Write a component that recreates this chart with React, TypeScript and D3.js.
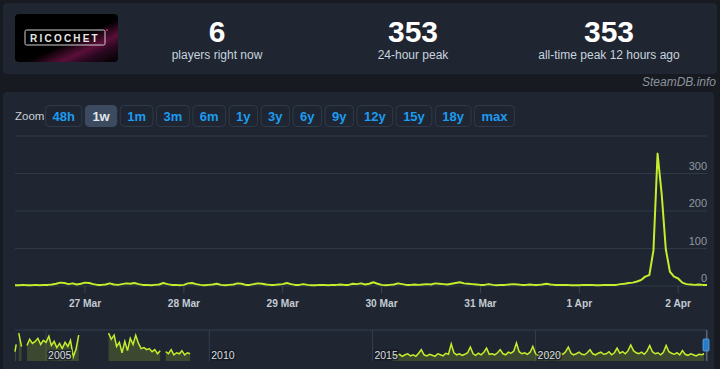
import React, { useMemo } from "react";
import * as d3 from "d3";

// header stats
const statValues = ["6", "353", "353"];
const statLabels = ["players right now", "24-hour peak", "all-time peak 12 hours ago"];

// zoom buttons
const zoomLabels = ["48h", "1w", "1m", "3m", "6m", "1y", "3y", "6y", "9y", "12y", "15y", "18y", "max"];
const activeZoom = "1w";

// one week of hourly player counts, starting 26 Mar 07:00
const weekStart = new Date(2025, 2, 26, 7);
const weekEnd = new Date(2025, 3, 2, 7);
const hourlyPlayers = [
    2, 2, 3, 2, 2, 3, 2, 3, 3, 4,
    6, 9, 8, 5, 7, 4, 6, 9, 8, 5,
    3, 3, 4, 7, 4, 3, 5, 7, 6, 8,
    5, 3, 3, 2, 3, 4, 8, 5, 3, 3,
    2, 3, 7, 8, 5, 3, 2, 3, 4, 6,
    3, 2, 3, 4, 7, 6, 3, 3, 5, 7,
    6, 4, 3, 3, 4, 5, 8, 5, 3, 3,
    5, 3, 2, 2, 3, 3, 2, 3, 3, 4,
    3, 3, 6, 5, 7, 4, 6, 10, 6, 3,
    2, 3, 4, 7, 5, 3, 3, 4, 3, 4,
    5, 4, 7, 6, 5, 4, 6, 8, 10, 7,
    6, 5, 4, 3, 3, 5, 3, 2, 3, 3,
    4, 5, 4, 3, 3, 4, 3, 3, 4, 6,
    4, 3, 3, 3, 3, 2, 2, 2, 3, 3,
    3, 2, 2, 3, 3, 3, 3, 5, 6, 8,
    9, 12, 16, 25, 29, 95, 353, 245, 98, 38,
    25, 20, 9, 5, 4, 3, 4, 3, 3,
];
const yTicks = [0, 100, 200, 300, 400];

// navigator (all-time, monthly) segments
const navSeg1 = [90, 160]; // from Jan 2004
const navSeg2 = [270, 140]; // from Mar 2004
const navSeg3 = [150, 210, 170, 190, 220, 160, 200, 180, 240, 150, 190, 130, 170, 120, 180, 140, 200, 40, 110, 250]; // from Jun 2004
const navSeg4 = [270, 210, 250, 140, 180, 80, 190, 100, 220, 160, 250, 170, 120, 130, 110, 120, 90, 110, 70, 100]; // from Dec 2006
const navSeg5 = [90, 70, 110, 60, 80, 70, 100, 60, 80, 70]; // from Sep 2008
const navSeg6 = [
    40, 55, 50, 65, 45, 60, 70, 50, 60, 45, 75, 110,
    60, 50, 65, 55, 45, 70, 60, 50, 75, 65, 165,
    80, 60, 70, 55, 65, 80, 135,
    70, 55, 75, 60, 85, 125,
    65, 70, 60, 80, 110,
    70, 60, 85, 75, 95, 175,
    90, 70, 80, 65, 85, 140,
    70, 55, 65, 60, 75, 50, 60, 70, 55, 80, 65, 90, 135,
    75, 60, 70, 85, 65, 60, 80, 110,
    70, 60, 75, 85, 65, 70, 90, 60, 80, 125,
    75, 90, 70, 100, 155,
    100, 80, 70, 85, 65, 95, 150,
    90, 70, 80, 60, 85, 150,
    90, 75, 65, 80, 60, 100,
    65, 55, 70, 60, 50, 65, 60, 70,
]; // from Aug 2015
const navYears = [2005, 2010, 2015, 2020];

const FONT = "'Liberation Sans', Arial, Helvetica, sans-serif";
const LIME = "#c3ee2c";

function measure(text: string, font: string) {
    const ctx = document.createElement("canvas").getContext("2d");
    if (!ctx) return text.length * 7;
    ctx.font = font;
    return ctx.measureText(text).width;
}

export default function App() {
    const width = 720;
    const height = 369;
    const plot = { left: 15, right: 707, top: 136, bottom: 286 };
    const nav = { top: 330, bottom: 361 };

    const x = d3.scaleTime().domain([weekStart, weekEnd]).range([plot.left, plot.right]);
    const y = d3.scaleLinear().domain([0, 400]).range([plot.bottom, plot.top]);

    const points = hourlyPlayers.map((v, i) => ({ t: d3.timeHour.offset(weekStart, i), v }));
    const line = d3
        .line<{ t: Date; v: number }>()
        .x((d) => x(d.t))
        .y((d) => y(d.v));

    const days = d3.timeDay.range(weekStart, weekEnd);
    const fmt = d3.timeFormat("%-d %b");

    // navigator
    const xNav = d3
        .scaleTime()
        .domain([new Date(2004, 0, 19), weekEnd])
        .range([plot.left, plot.right]);
    const yNav = d3.scaleLinear().domain([0, 300]).range([nav.bottom, nav.top]);
    const segs: [Date, number[]][] = [
        [new Date(2004, 0, 1), navSeg1],
        [new Date(2004, 2, 1), navSeg2],
        [new Date(2004, 5, 1), navSeg3],
        [new Date(2006, 11, 1), navSeg4],
        [new Date(2008, 8, 1), navSeg5],
        [new Date(2015, 7, 1), navSeg6],
    ];
    const navSeries = segs.map(([start, vals]) =>
        vals.map((v, i) => ({ t: d3.timeMonth.offset(start, i), v })),
    );
    const navLine = d3
        .line<{ t: Date; v: number }>()
        .x((d) => Math.max(plot.left, xNav(d.t)))
        .y((d) => yNav(d.v));
    const navArea = d3
        .area<{ t: Date; v: number }>()
        .x((d) => Math.max(plot.left, xNav(d.t)))
        .y0(nav.bottom)
        .y1((d) => yNav(d.v));

    // zoom buttons layout
    const buttons = useMemo(() => {
        const font = `bold 13px ${FONT}`;
        let cx = 45;
        return zoomLabels.map((label) => {
            const w = measure(label, font) + 14;
            const b = { label, x: cx, w };
            cx += w + 3.5;
            return b;
        });
    }, []);

    const statX = [217, 413, 609];
    const selStart = xNav(weekStart);

    return (
        <div style={{ position: "absolute", left: 0, top: 0, width, height, background: "#171a21" }}>
            <svg width={width} height={height} style={{ display: "block", fontFamily: FONT }}>
                <defs>
                    <linearGradient id="streak" x1="0" y1="0" x2="1" y2="1">
                        <stop offset="0" stopColor="#000" />
                        <stop offset="0.55" stopColor="#000" />
                        <stop offset="0.72" stopColor="#5a0f3a" />
                        <stop offset="0.82" stopColor="#2a0820" />
                        <stop offset="1" stopColor="#000" />
                    </linearGradient>
                </defs>
                <rect x={0} y={0} width={width} height={height} fill="#171a21" />

                {/* header card */}
                <rect x={3} y={3} width={714} height={71} rx={4} fill="#1f2531" />
                <rect x={15} y={14} width={103} height={48} rx={4} fill="url(#streak)" />
                <rect x={25} y={30} width={80} height={15} rx={1.5} fill="none" stroke="#cfcfcf" strokeWidth={1} />
                <text x={65} y={41.5} textAnchor="middle" fill="#e6e6e6" fontSize={10} letterSpacing={2.2} fontWeight="bold">
                    RICOCHET
                </text>
                <circle cx={107} cy={30} r={1} fill="#d0206a" />
                {statValues.map((v, i) => (
                    <g key={i}>
                        <text x={statX[i]} y={42} textAnchor="middle" fill="#ffffff" fontSize={30} fontWeight="bold">
                            {v}
                        </text>
                        <text x={statX[i]} y={59} textAnchor="middle" fill="#c6d4df" fontSize={12}>
                            {statLabels[i]}
                        </text>
                    </g>
                ))}
                <text x={716} y={86} textAnchor="end" fill="#8b949c" fontSize={12} fontStyle="italic">
                    SteamDB.info
                </text>

                {/* chart card */}
                <rect x={3} y={92} width={711} height={290} rx={4} fill="#1f2531" />
                <text x={15} y={120} fill="#c7d0d8" fontSize={11.5}>
                    Zoom
                </text>
                {buttons.map((b) => {
                    const active = b.label === activeZoom;
                    return (
                        <g key={b.label}>
                            <rect
                                x={b.x + 0.5}
                                y={105.5}
                                width={b.w}
                                height={21}
                                rx={4}
                                fill={active ? "#3c4b60" : "none"}
                                stroke={active ? "#3c4b60" : "#2f3a4a"}
                            />
                            <text
                                x={b.x + b.w / 2 + 0.5}
                                y={121}
                                textAnchor="middle"
                                fill={active ? "#e2e8ee" : "#1c9cf0"}
                                fontSize={13}
                                fontWeight="bold"
                            >
                                {b.label}
                            </text>
                        </g>
                    );
                })}

                {/* grid + y labels */}
                {yTicks.map((t) => (
                    <line key={t} x1={plot.left} x2={plot.right} y1={y(t)} y2={y(t)} stroke="#2f3a49" strokeWidth={1} />
                ))}
                {yTicks.slice(0, -1).map((t) => (
                    <text key={t} x={plot.right} y={y(t) - 4} textAnchor="end" fill="#8f99a3" fontSize={11}>
                        {t}
                    </text>
                ))}

                {/* x axis */}
                {days.map((d) => (
                    <g key={+d}>
                        <line x1={x(d)} x2={x(d)} y1={plot.bottom} y2={plot.bottom + 7} stroke="#3a4556" />
                        <text x={x(d)} y={307} textAnchor="middle" fill="#c2cbd3" fontSize={10.2} fontWeight="bold">
                            {fmt(d)}
                        </text>
                    </g>
                ))}

                <path d={line(points) ?? ""} fill="none" stroke={LIME} strokeWidth={2} strokeLinejoin="round" />

                {/* navigator */}
                <line x1={plot.left} x2={plot.right} y1={nav.top} y2={nav.top} stroke="#323e4f" />
                {navYears.map((yr) => {
                    const px = xNav(new Date(yr, 0, 1));
                    return <line key={yr} x1={px} x2={px} y1={nav.top} y2={nav.bottom} stroke="#323e4f" />;
                })}
                {navSeries.map((s, i) => (
                    <g key={i}>
                        <path d={navArea(s) ?? ""} fill={LIME} fillOpacity={0.18} />
                        <path d={navLine(s) ?? ""} fill="none" stroke={LIME} strokeWidth={1.5} />
                    </g>
                ))}
                {navYears.map((yr) => {
                    const px = xNav(new Date(yr, 0, 1));
                    return (
                        <text
                            key={yr}
                            x={px + 2}
                            y={359}
                            fill="#d6dbe0"
                            fontSize={10.5}
                            stroke="rgba(20,24,30,0.75)"
                            strokeWidth={3}
                            paintOrder="stroke"
                        >
                            {yr}
                        </text>
                    );
                })}
                <rect x={selStart} y={nav.top} width={plot.right - selStart} height={nav.bottom - nav.top} fill="rgba(102,133,194,0.25)" />
                <line x1={selStart} x2={selStart} y1={nav.top} y2={nav.bottom} stroke="#56667c" />
                <line x1={plot.right} x2={plot.right} y1={nav.top} y2={nav.bottom} stroke="#56667c" />
                <rect x={plot.right - 4} y={339} width={6} height={12} rx={1} fill="#2a7cc8" stroke="#5aa6e6" strokeWidth={0.8} />
            </svg>
        </div>
    );
}
